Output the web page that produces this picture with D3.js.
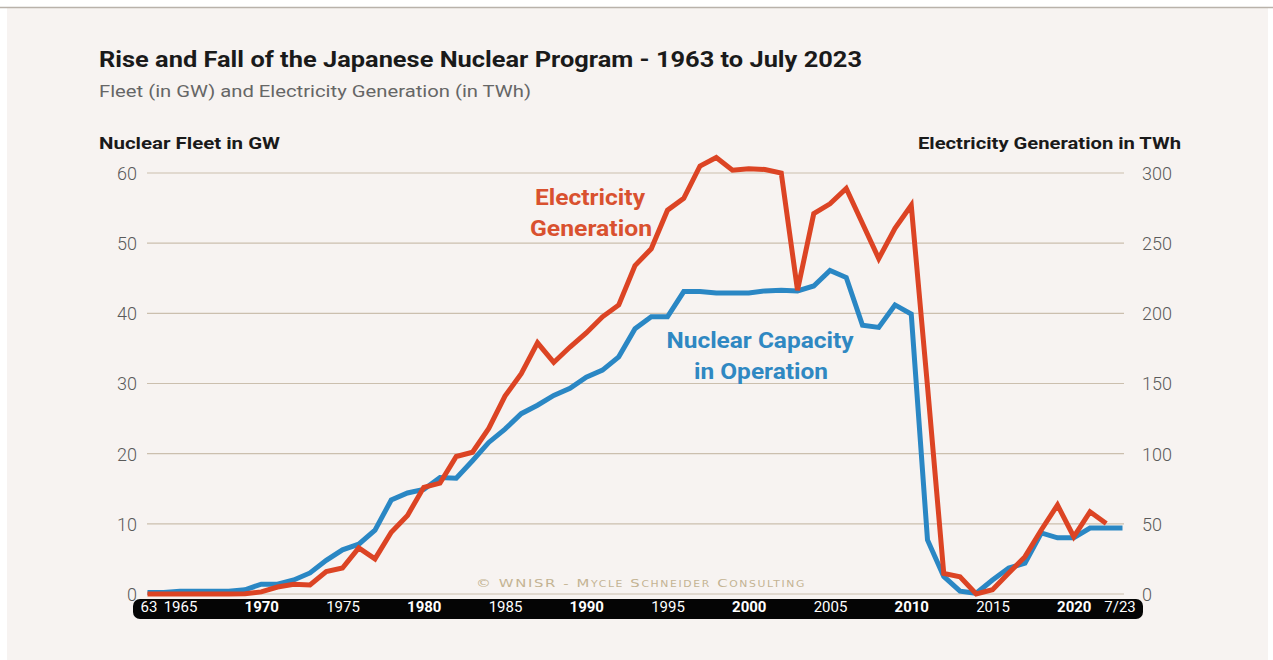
<!DOCTYPE html>
<html>
<head>
<meta charset="utf-8">
<script src="https://cdn.jsdelivr.net/npm/d3@7"></script>
<style>
  html, body { margin: 0; padding: 0; background: #ffffff; }
  svg { display: block; }
</style>
</head>
<body>
<svg id="chart" width="1273" height="660"></svg>
<script>
// ---- Data ----
const capacityYears = d3.range(1963, 2024);           // 1963 .. 2023
const capacityGW = [
  0.2, 0.2, 0.4, 0.4, 0.4, 0.4, 0.6, 1.4, 1.4, 2.0,   // 1963-1972
  3.0, 4.8, 6.3, 7.1, 9.1, 13.4, 14.4, 14.9, 16.6, 16.5, // 1973-1982
  19.0, 21.6, 23.5, 25.7, 26.9, 28.3, 29.3, 30.9, 31.9, 33.8, // 1983-1992
  37.8, 39.5, 39.5, 43.1, 43.1, 42.9, 42.9, 42.9, 43.2, 43.3, // 1993-2002
  43.2, 43.9, 46.1, 45.1, 38.3, 38.0, 41.2, 39.9, 7.7, 2.5,   // 2003-2012
  0.4, 0.1, 2.0, 3.7, 4.4, 8.7, 8.0, 8.0, 9.4, 9.4,           // 2013-2022
  9.4                                                         // 7/2023
];
const generationYears = d3.range(1963, 2023);         // 1963 .. 2022
const generationTWh = [
  0, 0, 0, 0, 0, 0, 0.2, 1.5, 5, 7,                   // 1963-1972
  6.5, 16, 18.5, 32.8, 25, 44, 56, 76, 79, 98,        // 1973-1982
  101, 118, 141, 157, 179, 165, 176, 186, 197.5, 206, // 1983-1992
  234, 246, 273.5, 282, 305, 311, 302, 303, 302.5, 300, // 1993-2002
  216.5, 271, 278, 289, 264, 239, 260.5, 277, 148, 14.7, // 2003-2012
  12.3, 0, 3, 15, 26.6, 45.6, 63.4, 40.8, 58.6, 50.3  // 2013-2022
];
const leftTicks = [0, 10, 20, 30, 40, 50, 60];
const rightTicks = [0, 50, 100, 150, 200, 250, 300];
const yearTickValues = [1963, 1965, 1970, 1975, 1980, 1985, 1990, 1995, 2000, 2005, 2010, 2015, 2020, 2023];
const yearTickLabels = ["63", "1965", "1970", "1975", "1980", "1985", "1990", "1995", "2000", "2005", "2010", "2015", "2020", "7/23"];
const boldYears = [1970, 1980, 1990, 2000, 2010, 2020];

// ---- Styles ----
const RED = "#dc4424";
const BLUE = "#2a87c4";
const FONT = "Roboto, 'Open Sans', 'DejaVu Sans', sans-serif";

const svg = d3.select("#chart");

// background panel
svg.append("rect").attr("x", 7).attr("y", 8).attr("width", 1261).attr("height", 652).attr("fill", "#f7f3f1");
svg.append("line").attr("x1", 0).attr("x2", 1273).attr("y1", 7.5).attr("y2", 7.5)
  .attr("stroke", "#b9b2aa").attr("stroke-width", 1.5);

// scales
const x = d3.scaleLinear().domain([1963, 2023]).range([147.5, 1122.5]);
const yL = d3.scaleLinear().domain([0, 60]).range([594, 173]);
const yR = d3.scaleLinear().domain([0, 300]).range([594, 173]);

// titles
svg.append("text").attr("x", 99).attr("y", 67)
  .attr("font-family", FONT).attr("font-weight", 700).attr("font-size", 22)
  .attr("fill", "#1a1a1a").attr("textLength", 763).attr("lengthAdjust", "spacingAndGlyphs")
  .text("Rise and Fall of the Japanese Nuclear Program - 1963 to July 2023");
svg.append("text").attr("x", 99).attr("y", 97)
  .attr("font-family", FONT).attr("font-size", 17).attr("fill", "#666")
  .attr("textLength", 432).attr("lengthAdjust", "spacingAndGlyphs")
  .text("Fleet (in GW) and Electricity Generation (in TWh)");
svg.append("text").attr("x", 99).attr("y", 149)
  .attr("font-family", FONT).attr("font-weight", 700).attr("font-size", 16).attr("fill", "#1a1a1a")
  .attr("textLength", 181).attr("lengthAdjust", "spacingAndGlyphs")
  .text("Nuclear Fleet in GW");
svg.append("text").attr("x", 1181).attr("y", 149).attr("text-anchor", "end")
  .attr("font-family", FONT).attr("font-weight", 700).attr("font-size", 16).attr("fill", "#1a1a1a")
  .attr("textLength", 263).attr("lengthAdjust", "spacingAndGlyphs")
  .text("Electricity Generation in TWh");

// grid
svg.append("g").selectAll("line").data(leftTicks).join("line")
  .attr("x1", 147).attr("x2", 1124)
  .attr("y1", d => yL(d)).attr("y2", d => yL(d))
  .attr("stroke", "#cbbfae").attr("stroke-width", 1.2);

// left axis
const leftAxis = d3.axisLeft(yL).tickValues(leftTicks).tickSize(0).tickPadding(0);
const gL = svg.append("g").attr("transform", "translate(137,0)").call(leftAxis);
gL.select(".domain").remove();
gL.selectAll("text").attr("font-family", FONT).attr("font-weight", 300).attr("font-size", 18).attr("fill", "#5a5a5a").attr("dy", "0.36em");

// right axis
const rightAxis = d3.axisRight(yR).tickValues(rightTicks).tickSize(0).tickPadding(0);
const gR = svg.append("g").attr("transform", "translate(1142,0)").call(rightAxis);
gR.select(".domain").remove();
gR.selectAll("text").attr("font-family", FONT).attr("font-weight", 300).attr("font-size", 18).attr("fill", "#5a5a5a").attr("dy", "0.36em");

// watermark
svg.append("text").attr("x", 641).attr("y", 587).attr("text-anchor", "middle")
  .attr("font-family", "'DejaVu Sans', sans-serif").attr("font-size", 11)
  .attr("font-variant", "small-caps").attr("letter-spacing", 1.2).attr("fill", "#c4b393")
  .attr("textLength", 330).attr("lengthAdjust", "spacingAndGlyphs")
  .text("© WNISR - Mycle Schneider Consulting");

// lines
const capLine = d3.line().x((d, i) => x(capacityYears[i])).y(d => yL(d));
const genLine = d3.line().x((d, i) => x(generationYears[i])).y(d => yR(d));

svg.append("path").datum(capacityGW).attr("d", capLine)
  .attr("fill", "none").attr("stroke", BLUE).attr("stroke-width", 5).attr("stroke-linejoin", "miter");
svg.append("path").datum(generationTWh).attr("d", genLine)
  .attr("fill", "none").attr("stroke", RED).attr("stroke-width", 5).attr("stroke-linejoin", "miter");

// series labels
const lab = (t, cx, cy, col, len) => svg.append("text").attr("x", cx).attr("y", cy).attr("text-anchor", "middle")
  .attr("font-family", FONT).attr("font-weight", 700).attr("font-size", 22).attr("fill", col)
  .attr("textLength", len).attr("lengthAdjust", "spacingAndGlyphs").text(t);
lab("Electricity", 590, 205, "#d9512f", 110);
lab("Generation", 591, 236, "#d9512f", 122);
lab("Nuclear Capacity", 760, 348, "#2f88c2", 187);
lab("in Operation", 761, 379, "#2f88c2", 134);

// bottom black year bar
svg.append("rect").attr("x", 133).attr("y", 599).attr("width", 1010).attr("height", 20)
  .attr("rx", 7).attr("fill", "#050505");
const xAxis = d3.axisBottom(x).tickValues(yearTickValues).tickSize(0).tickPadding(0)
  .tickFormat((d, i) => yearTickLabels[i]);
const gX = svg.append("g").attr("transform", "translate(0,601.5)").call(xAxis);
gX.select(".domain").remove();
gX.selectAll("text")
  .attr("font-family", FONT).attr("font-size", 15).attr("fill", "#ffffff").attr("dy", "0.71em")
  .attr("font-weight", d => boldYears.includes(d) ? 700 : 400)
  .attr("dx", d => d === 1963 ? 1 : (d === 2023 ? -3 : 0));
</script>
</body>
</html>
